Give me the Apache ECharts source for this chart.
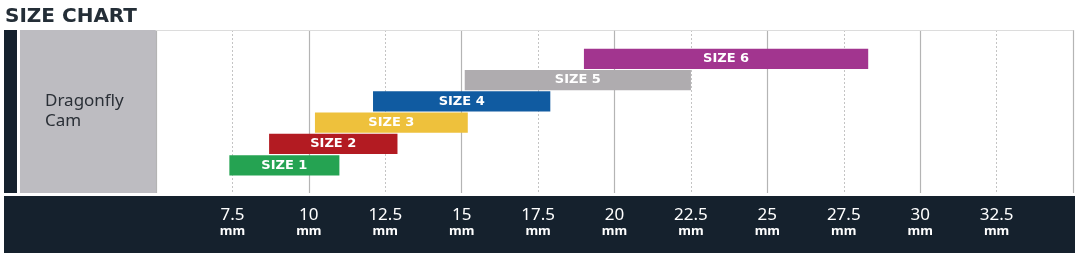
<!DOCTYPE html>
<html>
<head>
<meta charset="utf-8">
<script src="https://cdn.jsdelivr.net/npm/echarts@6/dist/echarts.min.js"></script>
<style>
html,body{margin:0;padding:0;background:#fff;}
#chart{width:1080px;height:257px;}
</style>
</head>
<body>
<div id="chart"></div>
<script>
// size ranges in mm
var sizeNames = ['SIZE 1', 'SIZE 2', 'SIZE 3', 'SIZE 4', 'SIZE 5', 'SIZE 6'];
var sizeMin = [7.4, 8.7, 10.2, 12.1, 15.1, 19.0];
var sizeMax = [11.0, 12.9, 15.2, 17.9, 22.5, 28.3];
var sizeRow = [1, 2, 3, 4, 5, 6];
var sizeColors = ['#25a352', '#b31b22', '#eec13c', '#105ba1', '#afacaf', '#a2358f'];
var productName = 'Dragonfly\nCam';
var axisMin = 5, axisMax = 35;

var myChart = echarts.init(document.getElementById('chart'), null, {renderer: 'canvas'});

var data = [];
for (var i = 0; i < sizeNames.length; i++) {
    data.push([sizeMin[i], sizeMax[i], sizeRow[i], i]);
}

function renderBar(params, api) {
    var start = api.coord([api.value(0), api.value(2)]);
    var end = api.coord([api.value(1), api.value(2)]);
    var h = api.size([0, 0.95])[1];
    var idx = api.value(3);
    return {
        type: 'rect',
        shape: {x: start[0], y: start[1] - h / 2, width: end[0] - start[0], height: h},
        style: {fill: sizeColors[idx]},
        textContent: {
            style: {
                text: sizeNames[idx],
                fill: '#fff',
                font: 'bold 13px "DejaVu Sans"'
            }
        },
        textConfig: {position: 'inside'}
    };
}

var option = {
    animation: false,
    title: {
        text: 'SIZE CHART',
        left: 0,
        top: 2,
        textStyle: {fontFamily: 'DejaVu Sans', fontSize: 20, fontWeight: 'bold', color: '#242e37'}
    },
    graphic: [
        {type: 'rect', z: -10, shape: {x: 4, y: 30, width: 13, height: 163}, style: {fill: '#15212d'}},
        {type: 'rect', z: -10, shape: {x: 20, y: 30, width: 136, height: 163}, style: {fill: '#bdbcc1'}},
        {type: 'rect', z: -10, shape: {x: 4, y: 196, width: 1071, height: 57}, style: {fill: '#15212d'}},
        {type: 'text', z: 10, left: 45, top: 91, style: {text: productName, fill: '#2a2f36', font: '17px "Noto Sans"', lineHeight: 20}}
    ],
    grid: {left: 156, right: 7, top: 30, bottom: 64},
    xAxis: [{
        type: 'value',
        min: axisMin,
        max: axisMax,
        interval: 2.5,
        axisLine: {show: false},
        axisTick: {show: false},
        splitLine: {show: true, lineStyle: {color: '#c4c4c4', type: [2, 2], width: 1}},
        axisLabel: {
            margin: 14,
            formatter: function (v) {
                if (v === axisMin || v === axisMax) return '';
                return '{n|' + v + '}\n{u|mm}';
            },
            rich: {
                n: {color: '#fff', fontSize: 17, fontFamily: 'Noto Sans', lineHeight: 17},
                u: {color: '#fff', fontSize: 13, fontWeight: 'bold', fontFamily: 'Noto Sans', lineHeight: 14}
            }
        }
    }, {
        type: 'value',
        position: 'top',
        min: axisMin,
        max: axisMax,
        interval: 5,
        axisLine: {show: true, lineStyle: {color: '#dcdcdc', width: 1}},
        axisTick: {show: false},
        axisLabel: {show: false},
        splitLine: {show: true, lineStyle: {color: '#b4b4b4', width: 1.2}}
    }],
    yAxis: {
        type: 'value',
        min: -0.3,
        max: 7.35,
        show: false,
        splitLine: {show: false}
    },
    series: [{
        type: 'custom',
        renderItem: renderBar,
        encode: {x: [0, 1], y: 2},
        data: data,
        z: 5
    }]
};

myChart.setOption(option);
</script>
</body>
</html>
